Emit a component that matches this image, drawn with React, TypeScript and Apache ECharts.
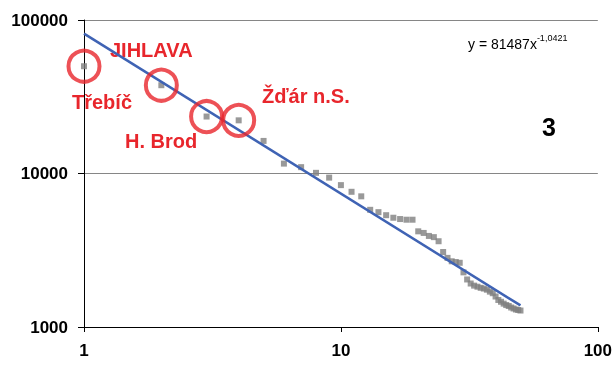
import React, { useEffect, useRef } from "react";
import * as echarts from "echarts";

const RANKS: number[] = [
  1, 2, 3, 4, 5, 6, 7, 8, 9, 10, 11, 12, 13, 14, 15, 16, 17, 18, 19, 20, 21, 22, 23, 24, 25,
  26, 27, 28, 29, 30, 31, 32, 33, 34, 35, 36, 37, 38, 39, 40, 41, 42, 43, 44, 45, 46, 47, 48, 49, 50,
];
const POPULATION: number[] = [
  50000, 37600, 23500, 22200, 16300, 11600, 11000, 10100, 9400, 8400, 7600, 7100, 5800, 5600, 5350,
  5150, 5050, 5000, 5000, 4200, 4100, 3920, 3850, 3620, 3080, 2820, 2680, 2650, 2620, 2270, 2040,
  1920, 1860, 1830, 1800, 1780, 1750, 1700, 1660, 1580, 1500, 1460, 1420, 1390, 1370, 1340, 1320,
  1300, 1290, 1280,
];
const HIGHLIGHTED: number[] = [0, 1, 2, 3];
const TREND_X: number[] = [1, 50];
const TREND_Y: number[] = [81487, 1382];
const X_TICKS: number[] = [1, 10, 100];
const Y_TICKS: number[] = [1000, 10000, 100000];

const RED = "#e8262c";
const FONT = "Liberation Sans";

export default function App() {
  const ref = useRef<HTMLDivElement>(null);
  useEffect(() => {
    if (!ref.current) return;
    const chart = echarts.init(ref.current, undefined, { renderer: "svg" });
    const points = RANKS.map((r, i) => [r, POPULATION[i]]);
    const trend = TREND_X.map((x, i) => [x, TREND_Y[i]]);
    const circles = HIGHLIGHTED.map((i) => [RANKS[i], POPULATION[i]]);
    const plain = (v: number) => String(Math.round(v));
    chart.setOption({
      animation: false,
      grid: { left: 84, right: 14, top: 20, bottom: 38 },
      xAxis: {
        type: "log",
        logBase: 10,
        min: X_TICKS[0],
        max: X_TICKS[X_TICKS.length - 1],
        axisLine: { show: true, lineStyle: { color: "#000", width: 1 } },
        axisTick: { show: true, length: 5, lineStyle: { color: "#000" } },
        axisLabel: { fontFamily: FONT, fontWeight: "bold", fontSize: 17, color: "#000", margin: 15, formatter: plain },
        splitLine: { show: false },
      },
      yAxis: {
        type: "log",
        logBase: 10,
        min: Y_TICKS[0],
        max: Y_TICKS[Y_TICKS.length - 1],
        axisLine: { show: true, lineStyle: { color: "#000", width: 1 } },
        axisTick: { show: true, length: 6, lineStyle: { color: "#000" } },
        axisLabel: { fontFamily: FONT, fontWeight: "bold", fontSize: 17, color: "#000", margin: 16, formatter: plain },
        splitLine: { show: true, lineStyle: { color: "#868686", width: 1 } },
      },
      series: [
        {
          type: "scatter",
          data: points,
          symbol: "rect",
          symbolSize: 6,
          itemStyle: { color: "#808080" },
          z: 2,
        },
        {
          type: "line",
          data: trend,
          symbol: "none",
          lineStyle: { color: "#3f63b4", width: 2.5 },
          z: 3,
        },
        {
          type: "scatter",
          data: circles,
          symbol: "circle",
          symbolSize: 31,
          itemStyle: { color: "rgba(0,0,0,0)", borderColor: RED, borderWidth: 4 },
          z: 4,
        },
      ],
      graphic: [
        { type: "text", left: 110, top: 40, style: { text: "JIHLAVA", fontFamily: FONT, fontWeight: "bold", fontSize: 20, fill: RED } },
        { type: "text", left: 72, top: 92, style: { text: "Třebíč", fontFamily: FONT, fontWeight: "bold", fontSize: 20, fill: RED } },
        { type: "text", left: 262, top: 86, style: { text: "Žďár n.S.", fontFamily: FONT, fontWeight: "bold", fontSize: 20, fill: RED } },
        { type: "text", left: 125, top: 131, style: { text: "H. Brod", fontFamily: FONT, fontWeight: "bold", fontSize: 20, fill: RED } },
        { type: "text", left: 542, top: 114, style: { text: "3", fontFamily: FONT, fontWeight: "bold", fontSize: 25, fill: "#000" } },
        {
          type: "text",
          left: 468,
          top: 33,
          style: {
            text: "{b|y = 81487x}{s|-1,0421}",
            rich: {
              b: { fontFamily: FONT, fontSize: 14, fill: "#000", verticalAlign: "bottom" },
              s: { fontFamily: FONT, fontSize: 9, fill: "#000", verticalAlign: "top", padding: [0, 0, 9, 0] },
            },
          },
        },
      ],
    });
    return () => chart.dispose();
  }, []);
  return <div ref={ref} style={{ position: "fixed", left: 0, top: 0, width: 615, height: 365 }} />;
}
